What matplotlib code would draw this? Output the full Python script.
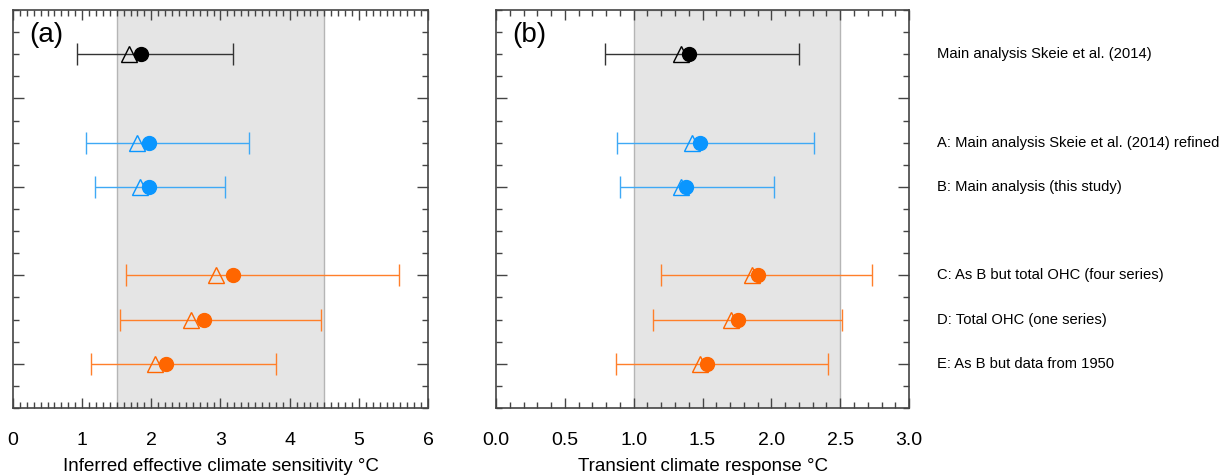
import numpy as np
import matplotlib.pyplot as plt
import matplotlib.transforms as mtransforms
from matplotlib.ticker import MultipleLocator, FixedLocator

plt.rcParams['font.family'] = ['Liberation Sans', 'DejaVu Sans']

# rows (y positions counted from the top) and labels
rows = [2, 6, 8, 12, 14, 16]
labels = ["Main analysis Skeie et al. (2014)",
          "A: Main analysis Skeie et al. (2014) refined",
          "B: Main analysis (this study)",
          "C: As B but total OHC (four series)",
          "D: Total OHC (one series)",
          "E: As B but data from 1950"]
colors = ["black", "#0a96ff", "#0a96ff", "#ff6600", "#ff6600", "#ff6600"]
line_colors = ["#333333", "#3fa9f5", "#3fa9f5", "#ff7f2a", "#ff7f2a", "#ff7f2a"]

# (a) effective climate sensitivity
ecs_mean = [1.85, 1.96, 1.96, 3.18, 2.76, 2.21]
ecs_tri = [1.67, 1.79, 1.84, 2.94, 2.57, 2.06]
ecs_lo = [0.93, 1.05, 1.19, 1.63, 1.54, 1.13]
ecs_hi = [3.18, 3.41, 3.07, 5.58, 4.45, 3.80]

# (b) transient climate response
tcr_mean = [1.40, 1.48, 1.38, 1.90, 1.76, 1.53]
tcr_tri = [1.34, 1.42, 1.34, 1.86, 1.71, 1.48]
tcr_lo = [0.79, 0.88, 0.90, 1.20, 1.14, 0.87]
tcr_hi = [2.20, 2.31, 2.02, 2.73, 2.51, 2.41]

fig = plt.figure(figsize=(12.25, 4.76), dpi=100)
ax1 = fig.add_axes([0.0106, 0.1429, 0.3388, 0.836])
ax2 = fig.add_axes([0.4049, 0.1429, 0.3372, 0.836])


def panel(ax, mean, tri, lo, hi, shade, xmax, major, xlabel, tag):
    ax.axvspan(shade[0], shade[1], facecolor="#e5e5e5", edgecolor="#b5b5b5",
               linewidth=1.0, zorder=0)
    for i in range(len(rows)):
        ax.errorbar([mean[i]], [rows[i]], xerr=[[mean[i] - lo[i]], [hi[i] - mean[i]]],
                    fmt="none", ecolor=line_colors[i], elinewidth=1.0,
                    capsize=8, capthick=1.0, zorder=2)
        ax.plot(tri[i], rows[i], marker="^", markersize=11.5, markerfacecolor="none",
                markeredgecolor=colors[i], markeredgewidth=1.0, zorder=3)
        ax.plot(mean[i], rows[i], marker="o", markersize=10, color=colors[i],
                zorder=4)
    ax.set_xlim(0, xmax)
    ax.set_ylim(18, 0)
    ax.xaxis.set_major_locator(MultipleLocator(major))
    ax.xaxis.set_minor_locator(MultipleLocator(0.1))
    ax.yaxis.set_major_locator(FixedLocator([4, 8, 12, 16]))
    ax.yaxis.set_minor_locator(MultipleLocator(1))
    ax.set_yticklabels([])
    ax.tick_params(which="both", direction="in", top=True, right=True,
                   color="#444444", width=1.0)
    ax.tick_params(which="major", length=7, labelsize=14, pad=17)
    ax.tick_params(which="minor", length=4)
    ax.tick_params(axis="y", which="major", length=8)
    for s in ax.spines.values():
        s.set_color("#444444")
        s.set_linewidth(1.2)
    ax.set_xlabel(xlabel, fontsize=13.5, labelpad=7)
    tr = mtransforms.blended_transform_factory(ax.transAxes, ax.transData)
    ax.text(0.04, 1.15, tag, fontsize=20, va="center", ha="left", transform=tr)


panel(ax1, ecs_mean, ecs_tri, ecs_lo, ecs_hi, (1.5, 4.5), 6, 1,
      "Inferred effective climate sensitivity \u00b0C", "(a)")
panel(ax2, tcr_mean, tcr_tri, tcr_lo, tcr_hi, (1.0, 2.5), 3, 0.5,
      "Transient climate response \u00b0C", "(b)")
ax2.xaxis.set_major_formatter(plt.FormatStrFormatter("%.1f"))

trans = mtransforms.blended_transform_factory(ax2.transAxes, ax2.transData)
for r, lab in zip(rows, labels):
    ax2.text(1.068, r, lab, fontsize=10.6, va="center", ha="left", transform=trans)

fig.savefig("out.png", dpi=100)
